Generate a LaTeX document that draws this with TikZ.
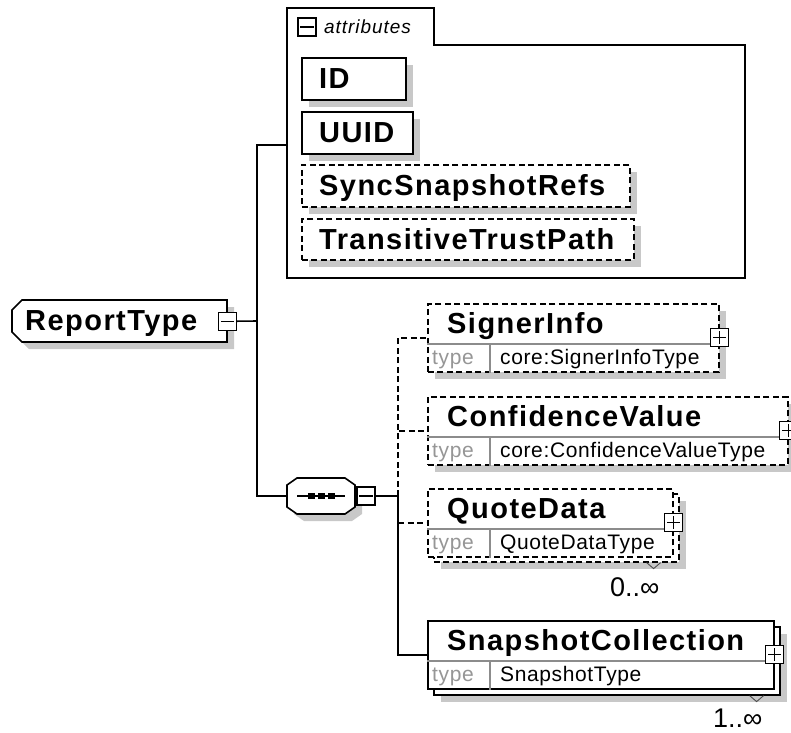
\documentclass[tikz,border=0pt]{standalone}
\usepackage{fontspec}
\setmainfont{Liberation Sans}
\newfontfamily\ttlfam[LetterSpace=5]{Liberation Sans}
\newfontfamily\smlfam[LetterSpace=3]{Liberation Sans}
\usetikzlibrary{shadows}
\definecolor{shadowgray}{RGB}{200,200,200}
\definecolor{typegray}{RGB}{150,150,150}
\definecolor{divgray}{RGB}{140,140,140}
\newcommand\titlef{\ttlfam\bfseries\fontsize{29}{29}\selectfont}
\newcommand\typef{\smlfam\fontsize{21}{21}\selectfont}
\newcommand\attrf{\ttlfam\itshape\fontsize{19}{19}\selectfont}
\newcommand\occf{\fontsize{27}{27}\selectfont}
\newcommand\rowsof[1]{%
  \draw[divline] ([yshift=-41pt]#1.north west) -- ([yshift=-41pt]#1.north east);
  \draw[divline] ([xshift=63pt,yshift=-41pt]#1.north west) -- ([xshift=63pt]#1.south west);}
\newcommand\minusin[1]{\draw[line width=1.2pt] ([xshift=3pt]#1.west) -- ([xshift=-3pt]#1.east);}
\newcommand\plusin[1]{\draw[line width=1.2pt] ([xshift=3pt]#1.west) -- ([xshift=-3pt]#1.east);
  \draw[line width=1.2pt] ([yshift=-3pt]#1.north) -- ([yshift=3pt]#1.south);}
\begin{document}
\begin{tikzpicture}[x=1pt,y=-1pt,line join=miter,
  shad/.style={drop shadow={shadow xshift=7pt,shadow yshift=-7pt,fill=shadowgray,opacity=1}},
  solidbox/.style={draw=black,line width=1.6pt,fill=white,inner sep=0pt,anchor=north west},
  dashbox/.style={solidbox,dash pattern=on 6pt off 3.5pt},
  conn/.style={line width=1.6pt},
  dconn/.style={line width=1.6pt,dash pattern=on 6pt off 3.5pt},
  divline/.style={draw=divgray,line width=1.1pt},
  ttl/.style={anchor=base west,inner sep=0pt,font=\titlef},
  tlbl/.style={anchor=base west,inner sep=0pt,font=\typef,text=typegray},
  tval/.style={anchor=base west,inner sep=0pt,font=\typef},
  pm/.style={draw=black,fill=white,line width=1.2pt,minimum size=18pt,inner sep=0pt},
  vmark/.style={draw=black!70,line width=0.9pt},
  occ/.style={anchor=base west,inner sep=0pt,font=\occf}]
\useasboundingbox[fill=white] (0,0) rectangle (791,732);

% ---------- attributes container ----------
\draw[line width=1.6pt] (287,278) -- (287,8) -- (434,8) -- (434,45) -- (745,45) -- (745,278) -- cycle;
\coordinate (attrin) at (287,145);
\node[pm] (attrpm) at (307,27) {};
\minusin{attrpm}
\node[anchor=base west,inner sep=0pt,font=\attrf] (attrlbl) at (324,33) {attributes};

\node[solidbox,shad,minimum width=104pt,minimum height=42pt] (id) at (301,57) {};
\node[ttl] (idT) at ([xshift=18pt,yshift=-31pt]id.north west) {ID};
\node[solidbox,shad,minimum width=111pt,minimum height=42pt] (uuid) at (301,111) {};
\node[ttl] (uuidT) at ([xshift=18pt,yshift=-31pt]uuid.north west) {UUID};
\node[dashbox,shad,minimum width=328pt,minimum height=42pt] (sync) at (301,164) {};
\node[ttl] (syncT) at ([xshift=18pt,yshift=-31pt]sync.north west) {SyncSnapshotRefs};
\node[dashbox,shad,minimum width=332pt,minimum height=41pt] (trans) at (301,218) {};
\node[ttl] (transT) at ([xshift=18pt,yshift=-31pt]trans.north west) {TransitiveTrustPath};

% ---------- ReportType ----------
\fill[shadowgray,shift={(7,7)}] (22,300) -- (227,300) -- (227,342) -- (22,342) -- (12,332) -- (12,310) -- cycle;
\draw[line width=1.6pt,fill=white] (22,300) -- (227,300) -- (227,342) -- (22,342) -- (12,332) -- (12,310) -- cycle;
\node[inner sep=0pt,minimum width=215pt,minimum height=42pt,anchor=north west] (rt) at (12,300) {};
\node[ttl] (rtT) at (25,330) {ReportType};
\node[pm] (rtpm) at (rt.east) {};
\minusin{rtpm}

% ---------- sequence ----------
\fill[shadowgray,shift={(7,7)}] (297,478) -- (345,478) -- (355,485) -- (355,507) -- (345,514) -- (297,514) -- (287,507) -- (287,485) -- cycle;
\draw[line width=1.6pt,fill=white] (297,478) -- (345,478) -- (355,485) -- (355,507) -- (345,514) -- (297,514) -- (287,507) -- (287,485) -- cycle;
\node[inner sep=0pt,minimum width=68pt,minimum height=36pt] (seq) at (321,496) {};
\draw[line width=1.6pt] (297,496) -- (345,496);
\fill (308,493) rectangle (315,499);
\fill (318,493) rectangle (325,499);
\fill (328,493) rectangle (335,499);
\node[pm] (seqpm) at (366,496) {};
\minusin{seqpm}

% ---------- child elements ----------
\node[dashbox,shad,minimum width=291pt,minimum height=68pt] (signer) at (427,303) {};
\rowsof{signer}
\node[ttl] (signerT) at ([xshift=20pt,yshift=-30pt]signer.north west) {SignerInfo};
\node[tlbl] (signerL) at ([xshift=5pt,yshift=-61pt]signer.north west) {type};
\node[tval] (signerV) at ([xshift=73pt,yshift=-61pt]signer.north west) {core:SignerInfoType};
\node[pm] (signerpm) at (signer.east) {};
\plusin{signerpm}

\node[dashbox,shad,minimum width=360pt,minimum height=68pt] (conf) at (427,396) {};
\rowsof{conf}
\node[ttl] (confT) at ([xshift=20pt,yshift=-30pt]conf.north west) {ConfidenceValue};
\node[tlbl] (confL) at ([xshift=5pt,yshift=-61pt]conf.north west) {type};
\node[tval] (confV) at ([xshift=73pt,yshift=-61pt]conf.north west) {core:ConfidenceValueType};
\node[pm] (confpm) at (conf.east) {};
\plusin{confpm}

\node[dashbox,shad,minimum width=245pt,minimum height=68pt] (quoteB) at (433,493) {};
\node[dashbox,minimum width=245pt,minimum height=68pt] (quoteF) at (427,488) {};
\rowsof{quoteF}
\node[ttl] (quoteT) at ([xshift=20pt,yshift=-30pt]quoteF.north west) {QuoteData};
\node[tlbl] (quoteL) at ([xshift=5pt,yshift=-61pt]quoteF.north west) {type};
\node[tval] (quoteV) at ([xshift=73pt,yshift=-61pt]quoteF.north west) {QuoteDataType};
\node[pm] (quotepm) at (quoteF.east) {};
\plusin{quotepm}
\draw[vmark] ([xshift=-33pt]quoteB.south east) -- ([xshift=-26pt,yshift=-6pt]quoteB.south east) -- ([xshift=-19pt]quoteB.south east);
\node[occ] (quoteOcc) at (610,596) {0..\char"221E};

\node[solidbox,shad,minimum width=346pt,minimum height=68pt] (snapB) at (433,626) {};
\node[solidbox,minimum width=346pt,minimum height=68pt] (snapF) at (427,620) {};
\rowsof{snapF}
\node[ttl] (snapT) at ([xshift=20pt,yshift=-30pt]snapF.north west) {SnapshotCollection};
\node[tlbl] (snapL) at ([xshift=5pt,yshift=-61pt]snapF.north west) {type};
\node[tval] (snapV) at ([xshift=73pt,yshift=-61pt]snapF.north west) {SnapshotType};
\node[pm] (snappm) at (snapF.east) {};
\plusin{snappm}
\draw[vmark] ([xshift=-31pt]snapB.south east) -- ([xshift=-24pt,yshift=-6pt]snapB.south east) -- ([xshift=-17pt]snapB.south east);
\node[occ] (snapOcc) at (713,727) {1..\char"221E};

% ---------- connectors ----------
\coordinate (rtj) at (257,321);
\draw[conn] (rtpm.east) -- (rtj);
\draw[conn] (rtj) |- (attrin);
\draw[conn] (rtj) |- (seq.west);
\coordinate (sj) at (398,496);
\draw[conn] (seqpm.east) -- (sj);
\draw[dconn] (sj) |- (signer.west);
\draw[dconn] (sj) |- (conf.west);
\draw[conn] (sj) |- (snapF.west);
\draw[dconn] (sj |- quoteF.west) -- (quoteF.west);
\end{tikzpicture}
\end{document}
